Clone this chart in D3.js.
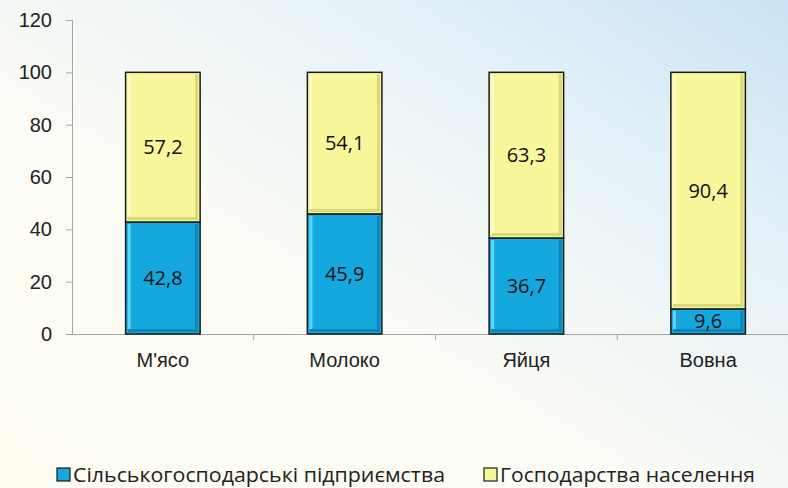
<!DOCTYPE html>
<html>
<head>
<meta charset="utf-8">
<script src="https://cdn.jsdelivr.net/npm/d3@7"></script>
<style>
  body { margin: 0; }
  svg { display: block; font-family: "Open Sans", "Noto Sans", sans-serif; }
</style>
</head>
<body>
<div id="chart"></div>
<script>
const categories = ["М'ясо", "Молоко", "Яйця", "Вовна"];
const enterprises = [42.8, 45.9, 36.7, 9.6];
const households = [57.2, 54.1, 63.3, 90.4];
const seriesNames = ["Сільськогосподарські підприємства", "Господарства населення"];
const yTicks = [0, 20, 40, 60, 80, 100, 120];

const W = 788, H = 488;
const margin = { top: 20, right: -11, bottom: 154, left: 72 };
const width = W - margin.left - margin.right;
const height = H - margin.top - margin.bottom;

const svg = d3.select("#chart").append("svg")
  .attr("width", W)
  .attr("height", H);

const defs = svg.append("defs");
const bg = defs.append("linearGradient").attr("id", "bg")
  .attr("x1", "0%").attr("y1", "100%").attr("x2", "100%").attr("y2", "0%");
bg.append("stop").attr("offset", "0%").attr("stop-color", "#fffdf2");
bg.append("stop").attr("offset", "40%").attr("stop-color", "#fbfcf4");
bg.append("stop").attr("offset", "75%").attr("stop-color", "#e4f1f8");
bg.append("stop").attr("offset", "100%").attr("stop-color", "#c9e3f4");

svg.append("rect").attr("width", W).attr("height", H).attr("fill", "url(#bg)");

const g = svg.append("g").attr("transform", `translate(${margin.left},${margin.top})`);

const x = d3.scaleBand().domain(categories).range([0, width]).paddingInner(0.59).paddingOuter(0.295);
const band = d3.scaleBand().domain(categories).range([0, width]);
const y = d3.scaleLinear().domain([0, 120]).range([height, 0]);

// axes
const yAxis = g.append("g")
  .call(d3.axisLeft(y).tickValues(yTicks).tickSize(6).tickPadding(14));
yAxis.select(".domain").attr("stroke", "#a6a6a6");
yAxis.selectAll(".tick line").attr("stroke", "#a6a6a6");
yAxis.selectAll("text").attr("font-size", 20).attr("fill", "#222");

const xAxis = g.append("g").attr("transform", `translate(0,${height})`)
  .call(d3.axisBottom(band).tickSize(0).tickPadding(19));
xAxis.select(".domain").attr("stroke", "#a6a6a6");
xAxis.selectAll("text").attr("font-size", 20).attr("fill", "#222");

g.append("g").selectAll("line")
  .data(categories.slice(1))
  .join("line")
  .attr("x1", d => band(d)).attr("x2", d => band(d))
  .attr("y1", height).attr("y2", height + 6)
  .attr("stroke", "#a6a6a6");

const colors = ["#15a8df", "#f7f79c"];
const lights = ["#5fd6ff", "#fdfdc8"];
const darks = ["#0d86b8", "#d9d97a"];

const stacked = categories.map((c, i) => [
  { cat: c, s: 0, y0: 0, y1: enterprises[i], v: enterprises[i] },
  { cat: c, s: 1, y0: enterprises[i], y1: enterprises[i] + households[i], v: households[i] }
]).flat();

const seg = g.append("g").selectAll("g")
  .data(stacked)
  .join("g");

seg.append("rect")
  .attr("x", d => x(d.cat))
  .attr("y", d => y(d.y1))
  .attr("width", x.bandwidth())
  .attr("height", d => y(d.y0) - y(d.y1))
  .attr("fill", d => colors[d.s])
  .attr("stroke", "#1a1a1a")
  .attr("stroke-width", 1.5);

// bevel highlights
seg.append("rect")
  .attr("x", d => x(d.cat) + 2)
  .attr("y", d => y(d.y1) + 2)
  .attr("width", 3)
  .attr("height", d => Math.max(0, y(d.y0) - y(d.y1) - 4))
  .attr("fill", d => lights[d.s]);
seg.append("rect")
  .attr("x", d => x(d.cat) + x.bandwidth() - 5)
  .attr("y", d => y(d.y1) + 2)
  .attr("width", 3)
  .attr("height", d => Math.max(0, y(d.y0) - y(d.y1) - 4))
  .attr("fill", d => darks[d.s]);
seg.append("rect")
  .attr("x", d => x(d.cat) + 2)
  .attr("y", d => y(d.y0) - 5)
  .attr("width", x.bandwidth() - 4)
  .attr("height", 3)
  .attr("fill", d => darks[d.s]);

seg.append("text")
  .attr("x", d => x(d.cat) + x.bandwidth() / 2)
  .attr("y", d => (y(d.y0) + y(d.y1)) / 2)
  .attr("dy", "0.35em")
  .attr("text-anchor", "middle")
  .attr("font-size", 20)
  .attr("fill", "#111")
  .text(d => d3.format(".1f")(d.v).replace(".", ","));

// legend
const legendX = [57, 484];
const legend = svg.append("g").selectAll("g")
  .data(seriesNames)
  .join("g")
  .attr("transform", (d, i) => `translate(${legendX[i]},468)`);
legend.append("rect")
  .attr("width", 13).attr("height", 13)
  .attr("fill", (d, i) => colors[i])
  .attr("stroke", "#1a1a1a").attr("stroke-width", 1.2);
legend.append("text")
  .attr("x", 16).attr("y", 7).attr("dy", "0.35em")
  .attr("font-size", 20).attr("fill", "#222")
  .attr("textLength", (d, i) => i === 0 ? 372 : 255)
  .attr("lengthAdjust", "spacingAndGlyphs")
  .text(d => d);
</script>
</body>
</html>
